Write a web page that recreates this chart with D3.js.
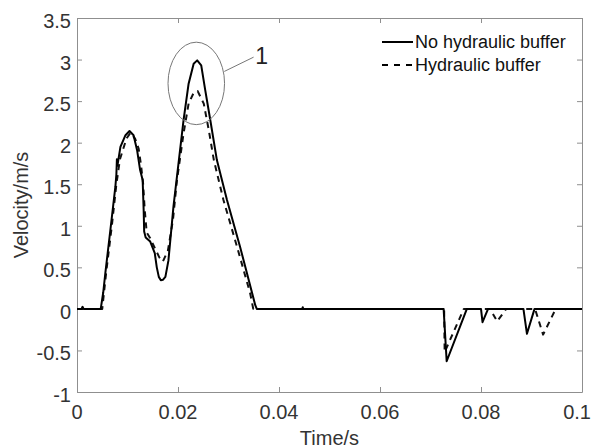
<!DOCTYPE html>
<html>
<head>
<meta charset="utf-8">
<script src="https://cdn.jsdelivr.net/npm/d3@7/dist/d3.min.js"></script>
<style>
  html, body { margin: 0; padding: 0; background: #fff; }
  svg { display: block; font-family: "Liberation Sans", Arial, Helvetica, sans-serif; }
</style>
</head>
<body>
<svg id="chart" width="592" height="448"></svg>
<script>
// Velocity traces (time in s, velocity in m/s)
const timeNoBuffer = [0, 0.0009, 0.0011, 0.0013, 0.0047, 0.0052, 0.0056, 0.0066, 0.0076, 0.0078, 0.0079, 0.0080,
  0.0086, 0.0096, 0.0104, 0.0112, 0.0119, 0.0125, 0.0130, 0.0132, 0.0133, 0.0136, 0.0145, 0.0154, 0.0158,
  0.0162, 0.0166, 0.0170, 0.0175, 0.0181, 0.0191, 0.0201, 0.0211, 0.0221, 0.0231, 0.0238, 0.0246, 0.0254,
  0.0264, 0.0277, 0.0297, 0.0323, 0.0353, 0.0356, 0.0446, 0.0447, 0.0448, 0.0726, 0.0732, 0.0772, 0.0800,
  0.0803, 0.0814, 0.0884, 0.0891, 0.0906, 0.1];
const velNoBuffer = [0, 0, 0.025, 0, 0, 0.2, 0.425, 0.946, 1.47, 1.62, 1.80, 1.72,
  1.95, 2.09, 2.14, 2.09, 1.91, 1.67, 1.55, 1.19, 0.93, 0.86, 0.81, 0.67, 0.5,
  0.385, 0.345, 0.35, 0.385, 0.58, 1.23, 1.75, 2.27, 2.71, 2.95, 2.99, 2.93, 2.63,
  2.27, 1.79, 1.31, 0.745, 0.045, 0, 0, 0.02, 0, 0, -0.63, 0, 0,
  -0.16, 0, 0, -0.30, 0, 0];

const timeBuffer = [0, 0.0050, 0.0058, 0.0069, 0.0078, 0.0085, 0.0098, 0.0106, 0.0115, 0.0122, 0.0127, 0.0131,
  0.0134, 0.0138, 0.0145, 0.0155, 0.0163, 0.0170, 0.0180, 0.0190, 0.0198, 0.0211, 0.0221, 0.0231, 0.0239,
  0.0251, 0.0261, 0.0271, 0.0290, 0.0317, 0.0343, 0.0349, 0.0727, 0.0728, 0.0766, 0.0818, 0.0832, 0.0850,
  0.0907, 0.0923, 0.0948, 0.1];
const velBuffer = [0, 0, 0.45, 1.0, 1.5, 1.8, 2.05, 2.12, 2.05, 1.93, 1.72, 1.5,
  1.2, 0.92, 0.85, 0.72, 0.62, 0.57, 0.7, 1.07, 1.55, 2.11, 2.47, 2.6, 2.62,
  2.47, 2.15, 1.79, 1.31, 0.745, 0.185, 0, 0, -0.52, 0, 0, -0.15, 0,
  0, -0.31, 0, 0];

const xTicks = [0, 0.02, 0.04, 0.06, 0.08, 0.1];
const xTickLabels = ["0", "0.02", "0.04", "0.06", "0.08", "0.1"];
const yTicks = [-1, -0.5, 0, 0.5, 1, 1.5, 2, 2.5, 3, 3.5];
const yTickLabels = ["-1", "-0.5", "0", "0.5", "1", "1.5", "2", "2.5", "3", "3.5"];
const seriesNames = ["No hydraulic buffer", "Hydraulic buffer"];

const margin = { left: 77, right: 10, top: 18, bottom: 56 };
const W = 592, H = 448;
const svg = d3.select("#chart");

const x = d3.scaleLinear().domain([0, 0.1]).range([margin.left, W - margin.right]);
const y = d3.scaleLinear().domain([-1, 3.5]).range([H - margin.bottom, margin.top]);

const axisColor = "#8f8f8f";
const textColor = "#333";

// Axes box with inward ticks on all four sides
const g = svg.append("g");
const tickLen = 5;
const styleAxis = sel => {
  sel.select(".domain").attr("stroke", axisColor).attr("stroke-width", 1);
  sel.selectAll(".tick line").attr("stroke", axisColor);
  sel.selectAll(".tick text").remove();
};
g.append("g").attr("transform", `translate(0,${y(-1)})`)
  .call(d3.axisBottom(x).tickValues(xTicks).tickSizeInner(-tickLen).tickSizeOuter(0)).call(styleAxis);
g.append("g").attr("transform", `translate(0,${y(3.5)})`)
  .call(d3.axisTop(x).tickValues(xTicks).tickSizeInner(-tickLen).tickSizeOuter(0)).call(styleAxis);
g.append("g").attr("transform", `translate(${x(0)},0)`)
  .call(d3.axisLeft(y).tickValues(yTicks).tickSizeInner(-tickLen).tickSizeOuter(0)).call(styleAxis);
g.append("g").attr("transform", `translate(${x(0.1)},0)`)
  .call(d3.axisRight(y).tickValues(yTicks).tickSizeInner(-tickLen).tickSizeOuter(0)).call(styleAxis);

// Tick labels (the last x label is kept inside the page edge)
svg.append("g").selectAll("text").data(xTicks).join("text")
  .attr("x", (d, i) => i === xTicks.length - 1 ? W - 1 : x(d)).attr("y", y(-1) + 27)
  .attr("text-anchor", (d, i) => i === xTicks.length - 1 ? "end" : "middle")
  .attr("font-size", 20).attr("fill", textColor)
  .text((d, i) => xTickLabels[i]);
svg.append("g").selectAll("text").data(yTicks).join("text")
  .attr("x", x(0) - 6).attr("y", d => y(d) + 10)
  .attr("text-anchor", "end").attr("font-size", 20).attr("fill", textColor)
  .text((d, i) => yTickLabels[i]);

// Axis titles
svg.append("text").attr("x", (x(0) + x(0.1)) / 2).attr("y", 445)
  .attr("text-anchor", "middle").attr("font-size", 20).attr("fill", textColor).text("Time/s");
svg.append("text").attr("transform", `translate(28,${(y(-1) + y(3.5)) / 2}) rotate(-90)`)
  .attr("text-anchor", "middle").attr("font-size", 20).attr("fill", textColor).text("Velocity/m/s");

// Curves
const line = d3.line().x(d => x(d[0])).y(d => y(d[1]));
const solidData = timeNoBuffer.map((t, i) => [t, velNoBuffer[i]]);
const dashedData = timeBuffer.map((t, i) => [t, velBuffer[i]]);
const dashPattern = "6,5";

svg.append("path").datum(dashedData).attr("d", line)
  .attr("fill", "none").attr("stroke", "#111").attr("stroke-width", 2)
  .attr("stroke-dasharray", dashPattern).attr("stroke-linejoin", "round");
svg.append("path").datum(solidData).attr("d", line)
  .attr("fill", "none").attr("stroke", "#000").attr("stroke-width", 2)
  .attr("stroke-linejoin", "round");

// Legend
const legend = svg.append("g").attr("transform", "translate(382,42)");
seriesNames.forEach((name, i) => {
  const row = legend.append("g").attr("transform", `translate(0,${i * 23})`);
  row.append("line").attr("x1", 0).attr("x2", 31).attr("y1", 0).attr("y2", 0)
    .attr("stroke", "#000").attr("stroke-width", 2)
    .attr("stroke-dasharray", i === 0 ? null : "6,6");
  row.append("text").attr("x", 33).attr("y", 5.5).attr("font-size", 18)
    .attr("fill", "#111").text(name);
});

// Annotation 1: ellipse around the main peak with a leader line
const ec = [0.02362, 2.713], er = [0.0056, 0.496];
svg.append("ellipse")
  .attr("cx", x(ec[0])).attr("cy", y(ec[1]))
  .attr("rx", x(ec[0] + er[0]) - x(ec[0])).attr("ry", y(ec[1]) - y(ec[1] + er[1]))
  .attr("fill", "none").attr("stroke", "#777").attr("stroke-width", 1);
svg.append("line")
  .attr("x1", x(0.02917)).attr("y1", y(2.857)).attr("x2", x(0.03497)).attr("y2", y(3.029))
  .attr("stroke", "#777").attr("stroke-width", 1);
svg.append("text").attr("x", x(0.03532)).attr("y", y(2.95))
  .attr("font-size", 23).attr("fill", "#222").text("1");
</script>
</body>
</html>
